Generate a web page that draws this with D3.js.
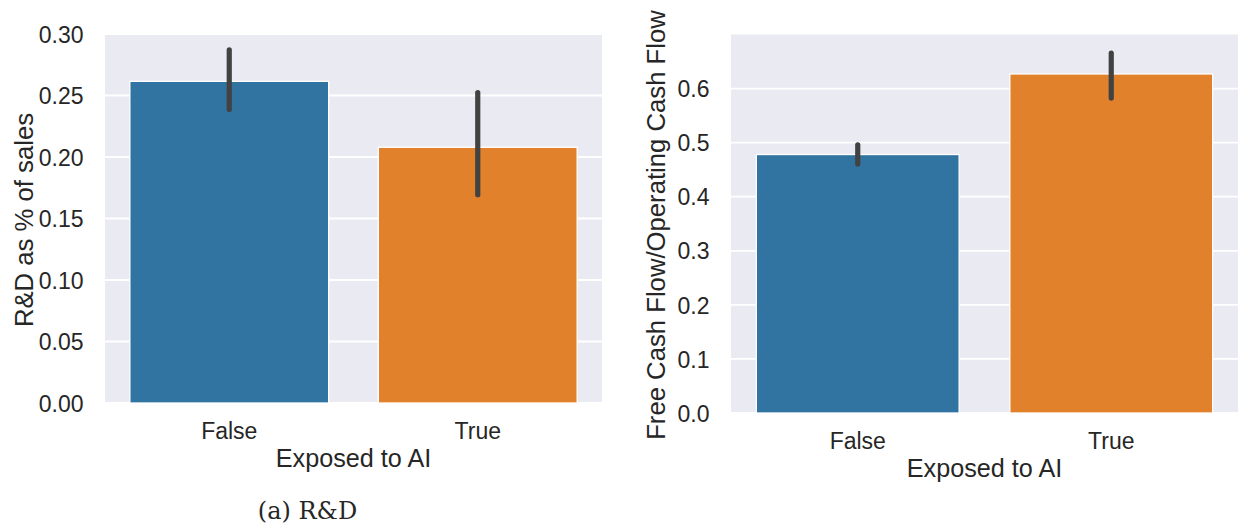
<!DOCTYPE html>
<html>
<head>
<meta charset="utf-8">
<script src="https://cdn.jsdelivr.net/npm/d3@7"></script>
<style>
  html, body { margin: 0; padding: 0; background: #ffffff; }
  svg { display: block; }
  text { font-family: "Liberation Sans", Arial, sans-serif; fill: #262626; }
</style>
</head>
<body>
<svg id="fig" width="1239" height="527"></svg>
<script>
// Categories shared by both panels
const categories = ["False", "True"];

// Panel (a): R&D intensity, mean with 95% CI
const rdMean = [0.2615, 0.2079];
const rdLow  = [0.2386, 0.1693];
const rdHigh = [0.2872, 0.2524];
const rdTicks = [0.00, 0.05, 0.10, 0.15, 0.20, 0.25, 0.30];

// Panel (b): free cash flow over operating cash flow, mean with 95% CI
const fcfMean = [0.478, 0.627];
const fcfLow  = [0.4606, 0.5824];
const fcfHigh = [0.496, 0.6655];
const fcfTicks = [0.0, 0.1, 0.2, 0.3, 0.4, 0.5, 0.6];

const barColors = ["#3274a1", "#e1812c"];

const svg = d3.select("#fig");

function panel(opts) {
  const g = svg.append("g");
  const x = d3.scaleBand()
    .domain(categories)
    .range([opts.left, opts.right])
    .paddingInner(0.2)
    .paddingOuter(0.1);
  const y = d3.scaleLinear()
    .domain(opts.domain)
    .range([opts.bottom, opts.top]);

  // background
  g.append("rect")
    .attr("x", opts.left).attr("y", opts.top)
    .attr("width", opts.right - opts.left)
    .attr("height", opts.bottom - opts.top)
    .attr("fill", "#eaeaf2");

  // horizontal grid
  g.append("g").selectAll("line")
    .data(opts.ticks)
    .join("line")
    .attr("x1", opts.left).attr("x2", opts.right)
    .attr("y1", d => y(d)).attr("y2", d => y(d))
    .attr("stroke", "#ffffff").attr("stroke-width", 1.8);

  // y tick labels via axis generator
  const yAxis = d3.axisLeft(y).tickValues(opts.ticks)
    .tickFormat(d3.format(opts.fmt)).tickSize(0).tickPadding(21.5);
  const ya = g.append("g").attr("transform", `translate(${opts.left},0)`).call(yAxis);
  ya.select(".domain").remove();
  ya.selectAll("text")
    .attr("font-size", 23)
    .attr("font-family", "Liberation Sans, Arial, sans-serif")
    .attr("fill", "#262626")
    .attr("dy", "0.355em");

  // x tick labels
  const xAxis = d3.axisBottom(x).tickSize(0).tickPadding(0);
  const xa = g.append("g").attr("transform", `translate(0,${opts.bottom})`).call(xAxis);
  xa.select(".domain").remove();
  xa.selectAll("text")
    .attr("font-size", 23)
    .attr("font-family", "Liberation Sans, Arial, sans-serif")
    .attr("fill", "#262626")
    .attr("y", 35.5).attr("dy", 0);

  // bars
  g.append("g").selectAll("rect")
    .data(categories)
    .join("rect")
    .attr("x", d => x(d))
    .attr("width", x.bandwidth())
    .attr("y", (d, i) => y(opts.mean[i]))
    .attr("height", (d, i) => y(0) - y(opts.mean[i]))
    .attr("fill", (d, i) => barColors[i])
    .attr("stroke", "#ffffff").attr("stroke-width", 1.3);

  // confidence intervals
  g.append("g").selectAll("line")
    .data(categories)
    .join("line")
    .attr("x1", d => x(d) + x.bandwidth() / 2)
    .attr("x2", d => x(d) + x.bandwidth() / 2)
    .attr("y1", (d, i) => y(opts.low[i]))
    .attr("y2", (d, i) => y(opts.high[i]))
    .attr("stroke", "#424242").attr("stroke-width", 5.2)
    .attr("stroke-linecap", "round");

  // axis labels
  g.append("text")
    .attr("x", (opts.left + opts.right) / 2)
    .attr("y", opts.bottom + 63.5)
    .attr("text-anchor", "middle")
    .attr("font-size", 25.2)
    .text("Exposed to AI");

  g.append("text")
    .attr("transform", `translate(${opts.ylabelX},${opts.ylabelY}) rotate(-90)`)
    .attr("text-anchor", "middle")
    .attr("font-size", 25.7)
    .text(opts.ylabel);
}

panel({
  left: 105, right: 602, top: 34, bottom: 403,
  domain: [0, 0.30], ticks: rdTicks, fmt: ".2f",
  mean: rdMean, low: rdLow, high: rdHigh,
  ylabel: "R&D as % of sales", ylabelX: 33, ylabelY: 220
});

panel({
  left: 731, right: 1238, top: 34.5, bottom: 413,
  domain: [0, 0.70], ticks: fcfTicks, fmt: ".1f",
  mean: fcfMean, low: fcfLow, high: fcfHigh,
  ylabel: "Free Cash Flow/Operating Cash Flow", ylabelX: 665, ylabelY: 225
});

// subfigure caption
svg.append("text")
  .attr("x", 307.5).attr("y", 519)
  .attr("text-anchor", "middle")
  .attr("font-size", 24)
  .style("font-family", "'DejaVu Serif', 'Liberation Serif', serif")
  .text("(a) R&D");
</script>
</body>
</html>
